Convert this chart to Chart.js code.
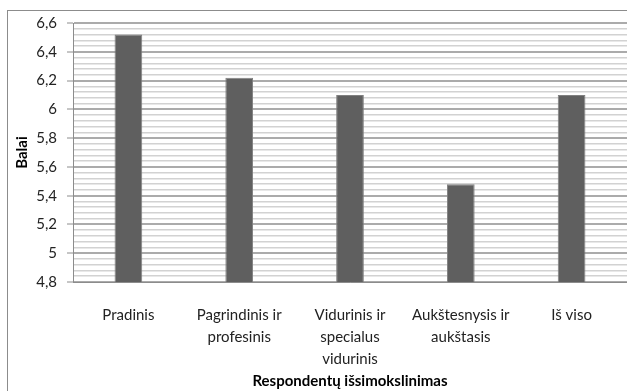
<!DOCTYPE html>
<html lang="lt">
<head>
<meta charset="utf-8">
<title>Balai pagal išsimokslinimą</title>
<script src="https://cdn.jsdelivr.net/npm/chart.js@4/dist/chart.umd.min.js"></script>
<style>
  html, body { margin: 0; padding: 0; background: #fff; overflow: hidden; }
  #wrap { position: relative; width: 627px; height: 391px; }
  /* outer chart frame, runs off the right and bottom edges */
  #frame {
    position: absolute; left: 7px; top: 10px; width: 660px; height: 420px;
    border: 1px solid #8c8c8c; box-sizing: border-box;
  }
  #chart { position: absolute; left: 0; top: 0; }
</style>
</head>
<body>
<div id="wrap">
  <div id="frame"></div>
  <canvas id="chart" width="627" height="391"></canvas>
</div>
<script>
// ============================
// Data
// ============================
const categories = [
  "Pradinis",
  ["Pagrindinis ir", "profesinis"],
  ["Vidurinis ir", "specialus", "vidurinis"],
  ["Aukštesnysis ir", "aukštasis"],
  "Iš viso",
];
const scores = [6.52, 6.22, 6.1, 5.48, 6.1];

// labelled y ticks; four unlabelled grid lines sit between each pair
const majorTicks = [4.8, 5, 5.2, 5.4, 5.6, 5.8, 6, 6.2, 6.4, 6.6];
const minorPerMajor = 5;

const yMin = majorTicks[0];
const yMax = majorTicks[majorTicks.length - 1];

const gridTicks = [];
majorTicks.slice(0, -1).forEach((t, i) => {
  const next = majorTicks[i + 1];
  for (let k = 0; k < minorPerMajor; k++) {
    gridTicks.push(Math.round((t + ((next - t) * k) / minorPerMajor) * 1000) / 1000);
  }
});
gridTicks.push(yMax);

const isMajor = (v) => majorTicks.some((t) => Math.abs(t - v) < 1e-6);
const fmt = (v) => String(Math.round(v * 10) / 10).replace(".", ",");

// ============================
// Chart
// ============================
Chart.defaults.font.family = "Lato, 'DejaVu Sans', sans-serif";
Chart.defaults.color = "#222";

new Chart(document.getElementById("chart"), {
  type: "bar",
  data: {
    labels: categories,
    datasets: [
      {
        data: scores,
        backgroundColor: "#5f5f5f",
        borderColor: "#808080",
        borderWidth: 1,
        barPercentage: 0.25,
        categoryPercentage: 1,
      },
    ],
  },
  options: {
    responsive: false,
    animation: false,
    layout: { padding: { top: 23, right: 0, bottom: 0, left: 0 } },
    plugins: {
      legend: { display: false },
      tooltip: { enabled: false },
    },
    scales: {
      x: {
        grid: { display: false, drawTicks: false },
        border: { display: true, color: "#8c8c8c" },
        ticks: {
          padding: 22,
          maxRotation: 0,
          autoSkip: false,
          font: { size: 15, lineHeight: 1.47 },
        },
        title: {
          display: true,
          text: "Respondentų išsimokslinimas",
          font: { size: 15, weight: "bold" },
          padding: { top: 0, bottom: 1 },
          color: "#000",
        },
        afterFit: (scale) => {
          scale.height = 109;
        },
      },
      y: {
        min: yMin,
        max: yMax,
        afterBuildTicks: (scale) => {
          scale.ticks = gridTicks.map((v) => ({ value: v }));
        },
        afterFit: (scale) => {
          scale.width = 73;
        },
        grid: {
          color: (ctx) => (isMajor(ctx.tick.value) ? "#ababab" : "#d2d2d2"),
          lineWidth: (ctx) => (isMajor(ctx.tick.value) ? 2 : 1.5),
          tickColor: (ctx) => (isMajor(ctx.tick.value) ? "#8c8c8c" : "rgba(0,0,0,0)"),
          tickWidth: 1,
          tickLength: 6,
        },
        border: { display: true, color: "#8c8c8c" },
        ticks: {
          autoSkip: false,
          padding: 10,
          font: { size: 15 },
          callback: (v) => (isMajor(v) ? fmt(v) : ""),
        },
        title: {
          display: true,
          text: "Balai",
          font: { size: 15, weight: "bold" },
          padding: { top: 13, bottom: 0 },
          color: "#000",
        },
      },
    },
  },
});
</script>
</body>
</html>
